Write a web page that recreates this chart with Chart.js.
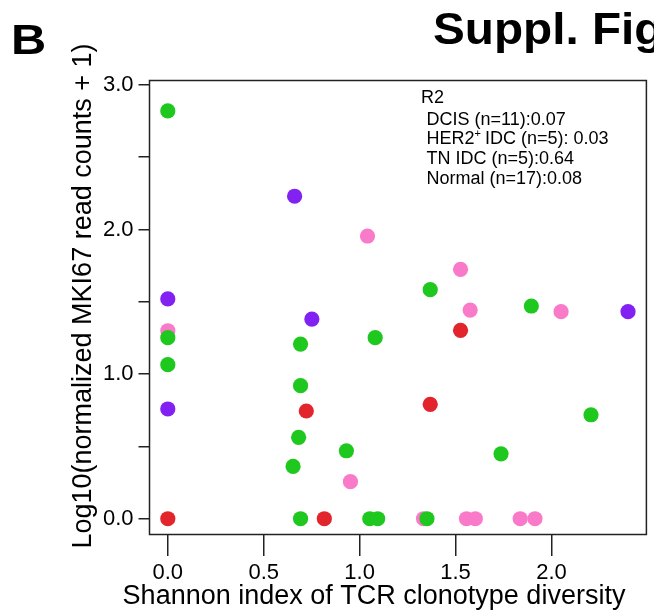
<!DOCTYPE html>
<html>
<head>
<meta charset="utf-8">
<script src="https://cdn.jsdelivr.net/npm/chart.js@4.4.1/dist/chart.umd.min.js"></script>
<style>
  html, body { margin: 0; padding: 0; background: #fff; }
  #wrap { position: relative; width: 654px; height: 613px; }
</style>
</head>
<body>
<div id="wrap"><canvas id="scatter"></canvas></div>
<script>
// Shannon index (x) and log10 MKI67 (y), one pair of arrays per group
var normalX = [0, 0, 0, 0.653, 0.682, 0.692, 0.692, 0.692, 0.931, 1.053, 1.081, 1.094, 1.351, 1.368, 1.737, 1.895, 2.206];
var normalY = [2.82, 1.252, 1.065, 0.362, 0.563, 1.208, 0.920, 0, 0.470, 0, 1.252, 0, 0, 1.584, 0.449, 1.471, 0.719];
var tnX = [0, 0.722, 0.816, 1.368, 1.526];
var tnY = [0, 0.745, 0, 0.791, 1.303];
var her2X = [0.661, 0, 0.751, 0, 2.399];
var her2Y = [2.23, 1.52, 1.381, 0.759, 1.432];
var dcisX = [0, 0.952, 1.041, 1.526, 1.576, 2.050, 1.333, 1.557, 1.603, 1.837, 1.914];
var dcisY = [1.30, 0.256, 1.955, 1.725, 1.443, 1.432, 0, 0, 0, 0, 0];

var xTicks = [0, 0.5, 1, 1.5, 2];
var xTickLabels = ['0.0', '0.5', '1.0', '1.5', '2.0'];
var yTicks = [0, 0.5, 1, 1.5, 2, 2.5, 3];
var yTickLabels = ['0.0', '', '1.0', '', '2.0', '', '3.0'];

var r2Lines = ['DCIS (n=11):0.07', 'HER2', 'TN IDC (n=5):0.64', 'Normal (n=17):0.08'];

var FONT = '"Liberation Sans", Arial, Helvetica, sans-serif';

function pts(xs, ys) {
    return xs.map(function (x, i) { return {x: x, y: ys[i]}; });
}

var extras = {
    id: 'extras',
    beforeDatasetsDraw: function (chart) {
        var ctx = chart.ctx, a = chart.chartArea;
        ctx.save();
        ctx.strokeStyle = '#222';
        ctx.lineWidth = 1.5;
        ctx.strokeRect(a.left, a.top, a.right - a.left, a.bottom - a.top);
        ctx.restore();
    },
    afterDraw: function (chart) {
        var ctx = chart.ctx;
        ctx.save();
        ctx.fillStyle = '#000';
        ctx.textBaseline = 'alphabetic';
        ctx.textAlign = 'left';

        // panel letter and figure header
        ctx.save();
        ctx.scale(1.16, 1);
        ctx.font = 'bold 42px ' + FONT;
        ctx.fillText('B', 11 / 1.16, 54);
        ctx.restore();
        ctx.save();
        ctx.scale(1.06, 1);
        ctx.font = 'bold 45px ' + FONT;
        ctx.fillText('Suppl. Figure', 433 / 1.06, 44);
        ctx.restore();

        // R2 block
        ctx.font = '18px ' + FONT;
        ctx.fillText('R2', 421, 103);
        var y0 = 124.5, dy = 19.8, x0 = 426.5;
        ctx.fillText(r2Lines[0], x0, y0);
        ctx.fillText(r2Lines[1], x0, y0 + dy);
        var w = ctx.measureText(r2Lines[1]).width;
        ctx.font = '11px ' + FONT;
        ctx.fillText('+', x0 + w, y0 + dy - 7);
        var w2 = ctx.measureText('+').width;
        ctx.font = '18px ' + FONT;
        ctx.fillText(' IDC (n=5): 0.03', x0 + w + w2 - 1, y0 + dy);
        ctx.fillText(r2Lines[2], x0, y0 + 2 * dy);
        ctx.fillText(r2Lines[3], x0, y0 + 3 * dy);

        // axis titles
        ctx.font = '27px ' + FONT;
        ctx.textAlign = 'center';
        ctx.textBaseline = 'middle';
        ctx.fillText('Shannon index of TCR clonotype diversity', 374, 597);
        ctx.translate(84, 296);
        ctx.rotate(-Math.PI / 2);
        ctx.fillText('Log10(normalized MKI67 read counts + 1)', 0, 0);
        ctx.restore();
    }
};

var config = {
    type: 'scatter',
    data: {
        datasets: [
            {label: 'Normal', data: pts(normalX, normalY), backgroundColor: '#1EC81E'},
            {label: 'TN IDC', data: pts(tnX, tnY), backgroundColor: '#E2242D'},
            {label: 'HER2+ IDC', data: pts(her2X, her2Y), backgroundColor: '#8222F2'},
            {label: 'DCIS', data: pts(dcisX, dcisY), backgroundColor: '#F97AC8'}
        ]
    },
    options: {
        responsive: false,
        animation: false,
        events: [],
        elements: {
            point: {radius: 7.6, borderWidth: 0, hoverRadius: 7.6}
        },
        layout: {
            padding: {left: 0, top: 80.5, right: 2, bottom: 0}
        },
        plugins: {
            legend: {display: false},
            tooltip: {enabled: false}
        },
        scales: {
            x: {
                type: 'linear',
                min: -0.0954,
                max: 2.4948,
                border: {display: false},
                grid: {
                    drawOnChartArea: false,
                    drawTicks: true,
                    tickLength: 21.5,
                    tickColor: '#222',
                    lineWidth: 1.5
                },
                afterBuildTicks: function (scale) {
                    scale.ticks = xTicks.map(function (v) { return {value: v}; });
                },
                afterFit: function (scale) {
                    scale.height = 78.5;
                },
                ticks: {
                    autoSkip: false,
                    maxRotation: 0,
                    padding: 4,
                    color: '#000',
                    font: {family: FONT, size: 22},
                    callback: function (v) {
                        var i = xTicks.indexOf(v);
                        return i >= 0 ? xTickLabels[i] : '';
                    }
                }
            },
            y: {
                type: 'linear',
                min: -0.109,
                max: 3.0304,
                border: {display: false},
                grid: {
                    drawOnChartArea: false,
                    drawTicks: true,
                    tickLength: 11,
                    tickColor: '#222',
                    lineWidth: 1.5
                },
                afterBuildTicks: function (scale) {
                    scale.ticks = yTicks.map(function (v) { return {value: v}; });
                },
                afterFit: function (scale) {
                    scale.width = 149.5;
                },
                ticks: {
                    autoSkip: false,
                    padding: 5,
                    color: '#000',
                    font: {family: FONT, size: 22},
                    callback: function (v) {
                        var i = yTicks.indexOf(v);
                        return i >= 0 ? yTickLabels[i] : '';
                    }
                }
            }
        }
    },
    plugins: [extras]
};

var canvas = document.getElementById('scatter');
canvas.width = 654;
canvas.height = 613;
window.scatterChart = new Chart(canvas.getContext('2d'), config);
</script>
</body>
</html>
